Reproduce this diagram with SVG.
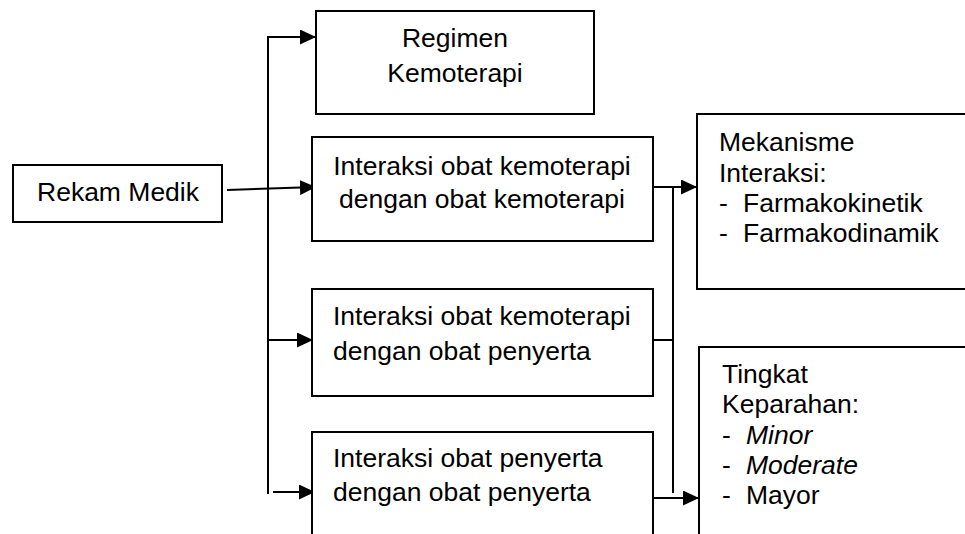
<svg xmlns="http://www.w3.org/2000/svg" width="965" height="534" viewBox="0 0 965 534">
<defs>
<style>
rect{fill:#fff;stroke:#000;stroke-width:2}
text{font-family:"Liberation Sans",Arial,sans-serif;font-size:26.5px;fill:#000}
.c{text-anchor:middle}
.i{font-style:italic}
.ln{fill:none;stroke:#000;stroke-width:2}
</style>
<marker id="ah" viewBox="0 0 16 15" refX="16" refY="7.5" markerWidth="16" markerHeight="15" markerUnits="userSpaceOnUse" orient="auto">
<path d="M0,0 L16,7.5 L0,15 Z" fill="#000"/>
</marker>
</defs>
<rect x="0" y="0" width="965" height="534" style="fill:#fff;stroke:none"/>
<g id="connectors">
<path class="ln" d="M268,494 V37 H316" marker-end="url(#ah)"/>
<path class="ln" d="M227,190 L316,187" marker-end="url(#ah)"/>
<path class="ln" d="M268,340 H313" marker-end="url(#ah)"/>
<path class="ln" d="M273,492 H315" marker-end="url(#ah)"/>
<path class="ln" d="M653,187 H697" marker-end="url(#ah)"/>
<path class="ln" d="M673,187 V493"/>
<path class="ln" d="M653,340 H673"/>
<path class="ln" d="M653,498 H699" marker-end="url(#ah)"/>
</g>
<g id="regimen">
<rect x="316" y="11" width="278" height="103"/>
<text class="c" x="455" y="47">Regimen</text>
<text class="c" x="455" y="82">Kemoterapi</text>
</g>
<g id="rekam-medik">
<rect x="13" y="165" width="209" height="57"/>
<text x="37" y="201">Rekam Medik</text>
</g>
<g id="kemo-kemo">
<rect x="312" y="137" width="341" height="104"/>
<text class="c" x="482" y="175">Interaksi obat kemoterapi</text>
<text class="c" x="482" y="208">dengan obat kemoterapi</text>
</g>
<g id="kemo-penyerta">
<rect x="312" y="289" width="341" height="107"/>
<text x="333" y="325">Interaksi obat kemoterapi</text>
<text x="333" y="360">dengan obat penyerta</text>
</g>
<g id="penyerta-penyerta">
<rect x="312" y="432" width="341" height="120"/>
<text x="333" y="467">Interaksi obat penyerta</text>
<text x="333" y="501">dengan obat penyerta</text>
</g>
<g id="mekanisme">
<rect x="697" y="114" width="300" height="175"/>
<text x="719" y="151">Mekanisme</text>
<text x="719" y="182">Interaksi:</text>
<text x="719" y="212">-</text><text x="743" y="212">Farmakokinetik</text>
<text x="719" y="242">-</text><text x="743" y="242">Farmakodinamik</text>
</g>
<g id="tingkat">
<rect x="699" y="347" width="300" height="200"/>
<text x="722" y="383">Tingkat</text>
<text x="722" y="413">Keparahan:</text>
<text x="722" y="444">-</text><text class="i" x="746" y="444">Minor</text>
<text x="722" y="474">-</text><text class="i" x="746" y="474">Moderate</text>
<text x="722" y="504">-</text><text x="746" y="504">Mayor</text>
</g>
</svg>
